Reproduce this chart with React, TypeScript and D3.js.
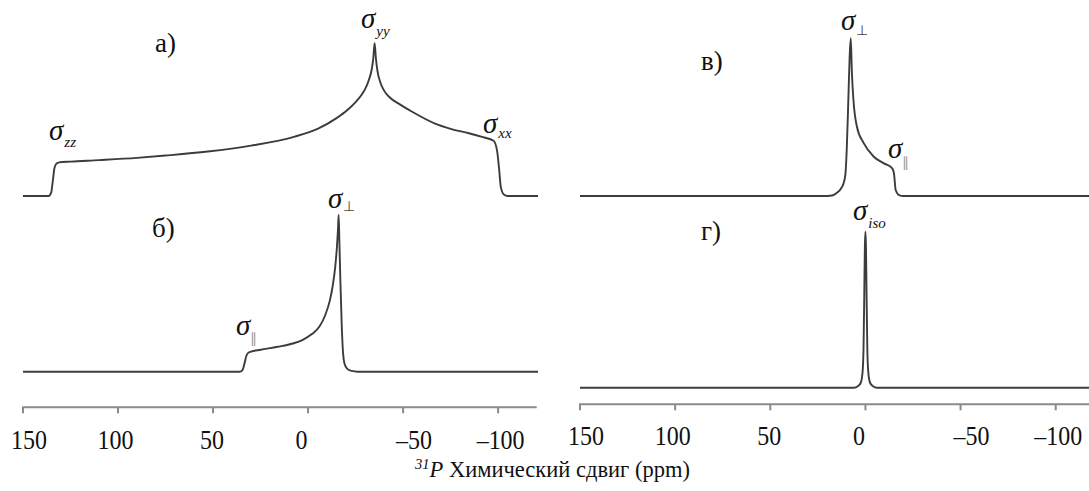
import React from "react";
import * as d3 from "d3";

// ---------- data ----------
const tickValues = [150, 100, 50, 0, -50, -100];
const tickLabels = ["150", "100", "50", "0", "–50", "–100"];

// panel а) – general CSA powder pattern
const ppmA = [150, 136.5, 135.2, 134.3, 133.5, 132.5, 131, 125, 110, 90, 75, 52.8, 30, 7, -5, -15, -20.7, -25, -28, -30, -32, -33.5, -34.3, -35, -35.7, -36.5, -38, -40, -43, -48.3, -55, -66.5, -75, -84.6, -92, -97.6, -99.4, -100.5, -101.4, -103, -105, -121];
const intA = [0, 0, 0.02, 0.1, 0.18, 0.21, 0.22, 0.225, 0.235, 0.25, 0.265, 0.291, 0.33, 0.389, 0.44, 0.51, 0.563, 0.615, 0.66, 0.7, 0.76, 0.83, 0.9, 1.0, 0.9, 0.82, 0.745, 0.69, 0.645, 0.6, 0.55, 0.476, 0.44, 0.411, 0.385, 0.362, 0.3, 0.18, 0.06, 0.01, 0, 0];

// panel б) – axial pattern
const ppmB = [150, 36, 34.5, 33.5, 32.5, 31.5, 30, 25, 16, 8, 3, -2, -6, -9, -11.5, -13, -14.3, -15.2, -15.7, -16.1, -16.5, -17, -17.7, -18.4, -19.2, -20.5, -23, -26, -121];
const intB = [0, 0, 0.01, 0.05, 0.1, 0.12, 0.128, 0.14, 0.159, 0.18, 0.202, 0.24, 0.288, 0.36, 0.457, 0.55, 0.67, 0.8, 0.9, 1.0, 0.82, 0.58, 0.3, 0.12, 0.05, 0.02, 0.005, 0, 0];

// panel в) – narrow axial pattern
const ppmC = [150, 20, 17, 15, 13, 11.5, 10.5, 9.8, 9, 8.3, 7.7, 7.1, 6.3, 4.5, 0.9, -4.4, -9.7, -14.1, -15, -15.9, -17.7, -20, -118];
const intC = [0, 0, 0.005, 0.02, 0.045, 0.08, 0.14, 0.3, 0.6, 0.88, 1, 0.78, 0.61, 0.441, 0.335, 0.249, 0.207, 0.175, 0.144, 0.038, 0.006, 0, 0];

// panel г) – isotropic line
const ppmD = [150, 6, 4, 2.5, 1.5, 1, 0.6, 0.3, 0, -0.3, -0.6, -1, -1.5, -2.5, -4, -6, -118];
const intD = [0, 0, 0.01, 0.03, 0.1, 0.25, 0.6, 0.9, 1, 0.9, 0.6, 0.25, 0.1, 0.03, 0.01, 0, 0];

// ---------- layout / style ----------
const W = 1089;
const H = 491;
const FONT = "'Liberation Serif', 'Times New Roman', serif";
const LINE = "#3c3c3c";
const AXIS = "#8a8a8a";
const labelShift: Record<number, number> = { 150: 6, 100: -2.5, 50: -1, 0: -6.5, [-50]: 11, [-100]: 2.5 };

const xL = d3.scaleLinear().domain([150, -120.3]).range([23, 536.7]);
const xR = d3.scaleLinear().domain([150, -117.5]).range([580, 1089]);

const yA = d3.scaleLinear().domain([0, 1]).range([196, 43.3]);
const yB = d3.scaleLinear().domain([0, 1]).range([371.7, 215]);
const yC = d3.scaleLinear().domain([0, 1]).range([196, 38.3]);
const yD = d3.scaleLinear().domain([0, 1]).range([387.7, 231.7]);

function path(ppm: number[], inten: number[], x: d3.ScaleLinear<number, number>, y: d3.ScaleLinear<number, number>) {
  const pts = ppm.map((p, i) => [p, inten[i]] as [number, number]);
  return d3
    .line<[number, number]>()
    .x((d) => x(d[0]))
    .y((d) => y(d[1]))
    .curve(d3.curveMonotoneX)(pts) as string;
}

function Axis({ x, y, x0, x1, labelY }: { x: d3.ScaleLinear<number, number>; y: number; x0: number; x1: number; labelY: number }) {
  return (
    <g>
      <line x1={x0} x2={x1} y1={y} y2={y} stroke={AXIS} strokeWidth={2} />
      {tickValues.map((t, i) => (
        <g key={t}>
          <line x1={x(t)} x2={x(t)} y1={y} y2={y + 6} stroke={AXIS} strokeWidth={2} />
          <text
            transform={`translate(${x(t) + labelShift[t]},${labelY}) scale(1,1.12)`}
            textAnchor="middle"
            fontFamily={FONT}
            fontSize={24}
            fill="#111"
          >
            {tickLabels[i]}
          </text>
        </g>
      ))}
    </g>
  );
}

function Sigma({ x, y, sub, subDy, subItalic = true, subColor = "#111", subSize = 15, gap = 1 }: { x: number; y: number; sub: string; subDy: number; subItalic?: boolean; subColor?: string; subSize?: number; gap?: number }) {
  return (
    <text x={x} y={y} fontFamily={FONT} fill="#111">
      <tspan fontSize={29} fontStyle="italic">σ</tspan>
      <tspan dx={gap} dy={subDy} fontSize={subSize} fontStyle={subItalic ? "italic" : "normal"} fill={subColor}>
        {sub}
      </tspan>
    </text>
  );
}

function PanelLabel({ x, y, text }: { x: number; y: number; text: string }) {
  return (
    <text x={x} y={y} fontFamily={FONT} fontSize={27} fill="#111">
      {text}
    </text>
  );
}

export default function App() {
  return (
    <svg width={W} height={H} style={{ position: "absolute", left: 0, top: 0, background: "#fff" }}>
      <rect width={W} height={H} fill="#fff" />
      {/* curves */}
      <path d={path(ppmA, intA, xL, yA)} fill="none" stroke={LINE} strokeWidth={1.9} />
      <path d={path(ppmB, intB, xL, yB)} fill="none" stroke={LINE} strokeWidth={1.9} />
      <path d={path(ppmC, intC, xR, yC)} fill="none" stroke={LINE} strokeWidth={1.9} />
      <path d={path(ppmD, intD, xR, yD)} fill="none" stroke={LINE} strokeWidth={1.9} />

      {/* axes */}
      <Axis x={xL} y={407.3} x0={22} x1={536.7} labelY={449} />
      <Axis x={xR} y={404.3} x0={579} x1={1089} labelY={445} />

      {/* panel letters */}
      <PanelLabel x={155} y={52} text="а)" />
      <PanelLabel x={152} y={237} text="б)" />
      <PanelLabel x={701} y={70} text="в)" />
      <PanelLabel x={701} y={240} text="г)" />

      {/* sigma annotations */}
      <Sigma x={361} y={28} sub="yy" subDy={8} />
      <Sigma x={49} y={140} sub="zz" subDy={7} />
      <Sigma x={483} y={133} sub="xx" subDy={5} />
      <Sigma x={328} y={208} sub="⊥" subDy={3} subItalic={false} subColor="#444" subSize={14} />
      <Sigma x={841} y={30} sub="⊥" subDy={5} subItalic={false} subColor="#444" subSize={14} />
      <Sigma x={236} y={335} sub="∥" subDy={8} subItalic={false} subColor="#999" subSize={14} gap={0} />
      <Sigma x={888} y={158} sub="∥" subDy={9} subItalic={false} subColor="#999" subSize={14} gap={0} />
      <Sigma x={853} y={220} sub="iso" subDy={8} />

      {/* axis title */}
      <text x={552.5} y={477} textAnchor="middle" fontFamily={FONT} fontSize={22.5} fill="#111">
        <tspan fontStyle="italic" fontSize={14.5} dy={-8}>31</tspan>
        <tspan fontStyle="italic" dy={8}>P</tspan>
        <tspan> Химический сдвиг (ppm)</tspan>
      </text>
    </svg>
  );
}
